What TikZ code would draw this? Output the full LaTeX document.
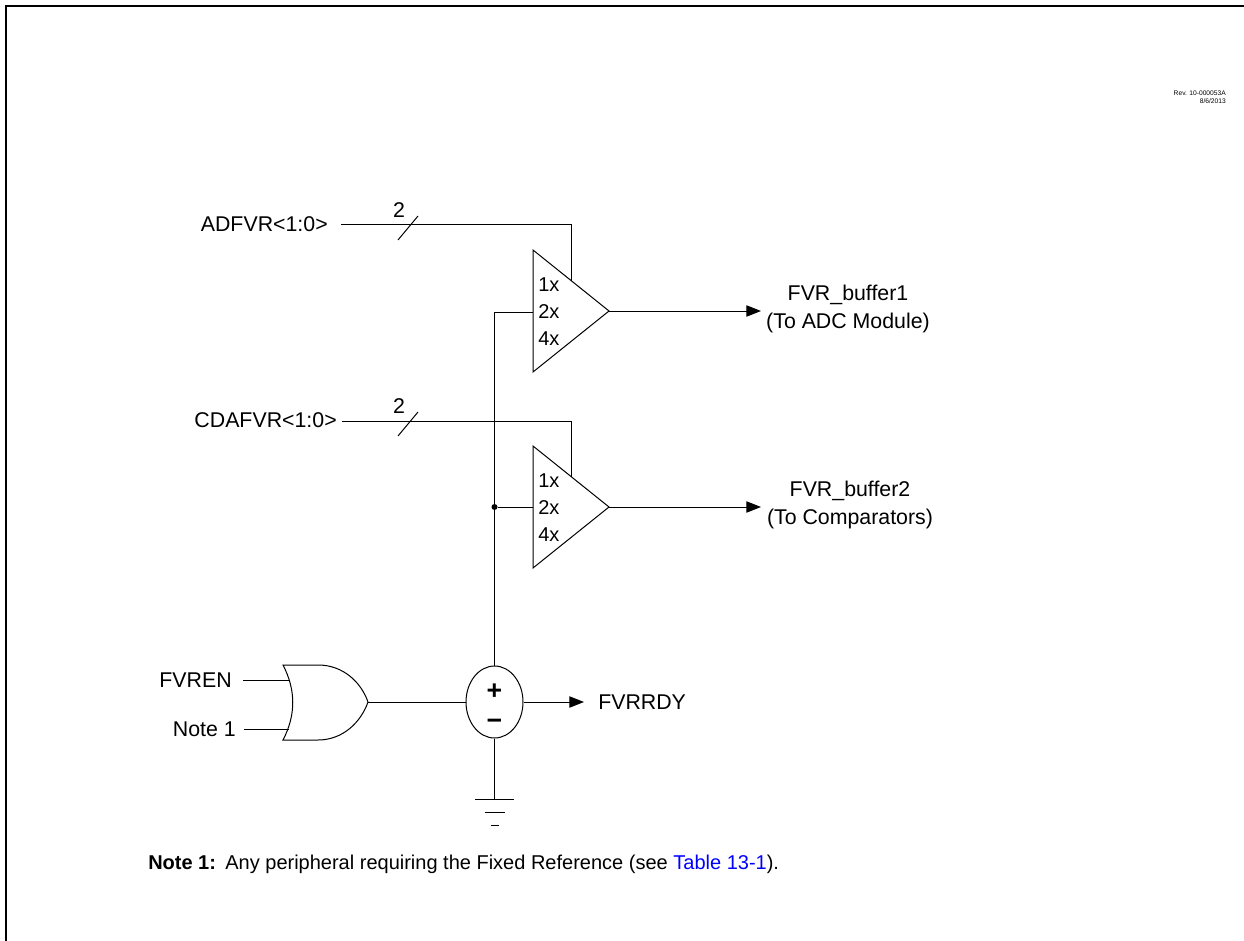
\documentclass[tikz,border=0pt]{standalone}
\usepackage{fontspec}
\setmainfont{Liberation Sans}
\usetikzlibrary{arrows.meta,shapes.geometric}
\definecolor{linkblue}{RGB}{0,0,255}
\begin{document}
\begin{tikzpicture}[x=0.75pt,y=-0.75pt,
  wire/.style={line width=0.75pt},
  arr/.style={wire,-{Triangle[length=11pt,width=8.5pt]}},
  lbl/.style={font=\fontsize{16}{19}\selectfont,inner sep=0pt},
  sign/.style={font=\fontsize{20}{22}\selectfont\bfseries,inner sep=0pt},
  gain/.style={font=\fontsize{15}{18}\selectfont,inner sep=0pt,anchor=west},
  notef/.style={font=\fontsize{15}{18}\selectfont,inner sep=0pt},
  dotj/.style={circle,fill=black,inner sep=0pt,minimum size=4.5pt}]
\useasboundingbox (0,0) rectangle (1244,941);
% frame
\draw[line width=1.5pt] (6,941) -- (6,6) -- (1244,6);
% revision
\node[font=\fontsize{5}{6}\selectfont,anchor=east,inner sep=0pt] (rev) at (1226,93) {Rev. 10-000053A};
\node[font=\fontsize{5}{6}\selectfont,anchor=east,inner sep=0pt] (date) at (1226,101) {8/6/2013};

% buffer 1
\coordinate (t1a) at (533,250);
\coordinate (t1b) at (533,372);
\coordinate (t1c) at (609,311);
\draw[wire] (t1a) -- (t1c) -- (t1b) -- cycle;
\node[gain] (g11) at (538,285) {1x};
\node[gain] (g12) at (538,312) {2x};
\node[gain] (g14) at (538,339) {4x};
% buffer 2
\coordinate (t2a) at (533,446);
\coordinate (t2b) at (533,568);
\coordinate (t2c) at (609,507);
\draw[wire] (t2a) -- (t2c) -- (t2b) -- cycle;
\node[gain] (g21) at (538,481) {1x};
\node[gain] (g22) at (538,508) {2x};
\node[gain] (g24) at (538,535) {4x};

% bus inputs
\node[lbl,anchor=east] (adfvr) at (328,224) {ADFVR<1:0>};
\coordinate (b1s) at (341,225);
\coordinate (b1c) at (571,225);
\coordinate (b1e) at (571,280.5);
\draw[wire] (b1s) -- (b1c) -- (b1e);
\draw[wire] (398,240) -- (418,216);
\node[lbl] (two1) at (399,210) {2};

\node[lbl,anchor=east] (cdafvr) at (337,420) {CDAFVR<1:0>};
\coordinate (b2s) at (342,421);
\coordinate (b2c) at (571,421);
\coordinate (b2e) at (571,476.5);
\draw[wire] (b2s) -- (b2c) -- (b2e);
\draw[wire] (398,436) -- (418,412);
\node[lbl] (two2) at (399,406) {2};

% outputs
\coordinate (o1) at (761,311);
\coordinate (o2) at (761,507);
\draw[arr] (t1c) -- (o1);
\draw[arr] (t2c) -- (o2);
\node[lbl] (fb1) at (848,295) {FVR\_buffer1};
\node[lbl] (fb1b) at (848,323) {(To ADC Module)};
\node[lbl] (fb2) at (850,491) {FVR\_buffer2};
\node[lbl] (fb2b) at (850,519) {(To Comparators)};

% summing / reference
\node[draw,ellipse,wire,minimum width=42.75pt,minimum height=54pt,inner sep=0pt] (sum) at (494.5,702) {};
\node[sign] (plus) at (494.5,692) {+};
\node[sign] (minus) at (494.5,724) {−};

% feedback
\coordinate (fbtop) at (494.5,312);
\coordinate (fbin1) at (533,312);
\node[dotj] (jn) at (494.5,507) {};
\coordinate (fbin2) at (533,507);
\draw[wire] (sum.north) -- (fbtop) -- (fbin1);
\draw[wire] (jn) -- (fbin2);

% OR gate
\coordinate (orout) at (368,702);
\draw[wire] (283,665) .. controls (296,690) and (296,715) .. (283,740)
  -- (318,740) .. controls (343,740) and (361,722) .. (orout)
  .. controls (361,682) and (343,665) .. (318,665) -- cycle;
\node[lbl,anchor=east] (fvren) at (232,680) {FVREN};
\node[lbl,anchor=east] (note1) at (236,729) {Note 1};
\coordinate (in1) at (288.5,680);
\coordinate (in2) at (288.5,729);
\draw[wire] (fvren.east) ++(11,0) -- (in1);
\draw[wire] (note1.east) ++(8,0) -- (in2);
\draw[wire] (orout) -- (sum.west);

% FVRRDY
\coordinate (rdy) at (584,702);
\draw[arr] (sum.east) -- (rdy);
\node[lbl,anchor=west] (fvrrdy) at (598,702) {FVRRDY};

% ground
\coordinate (gnd) at (494.5,799);
\draw[wire] (sum.south) -- (gnd);
\draw[wire] (475,799) -- (514,799);
\draw[wire] (484.5,812) -- (504.5,812);
\draw[wire] (490.5,825) -- (498.5,825);

% note
\node[notef,anchor=west] (note) at (148,864) {\textbf{Note 1:}\hspace{7pt}Any peripheral requiring the Fixed Reference (see \textcolor{linkblue}{Table 13-1}).};
\end{tikzpicture}
\end{document}
